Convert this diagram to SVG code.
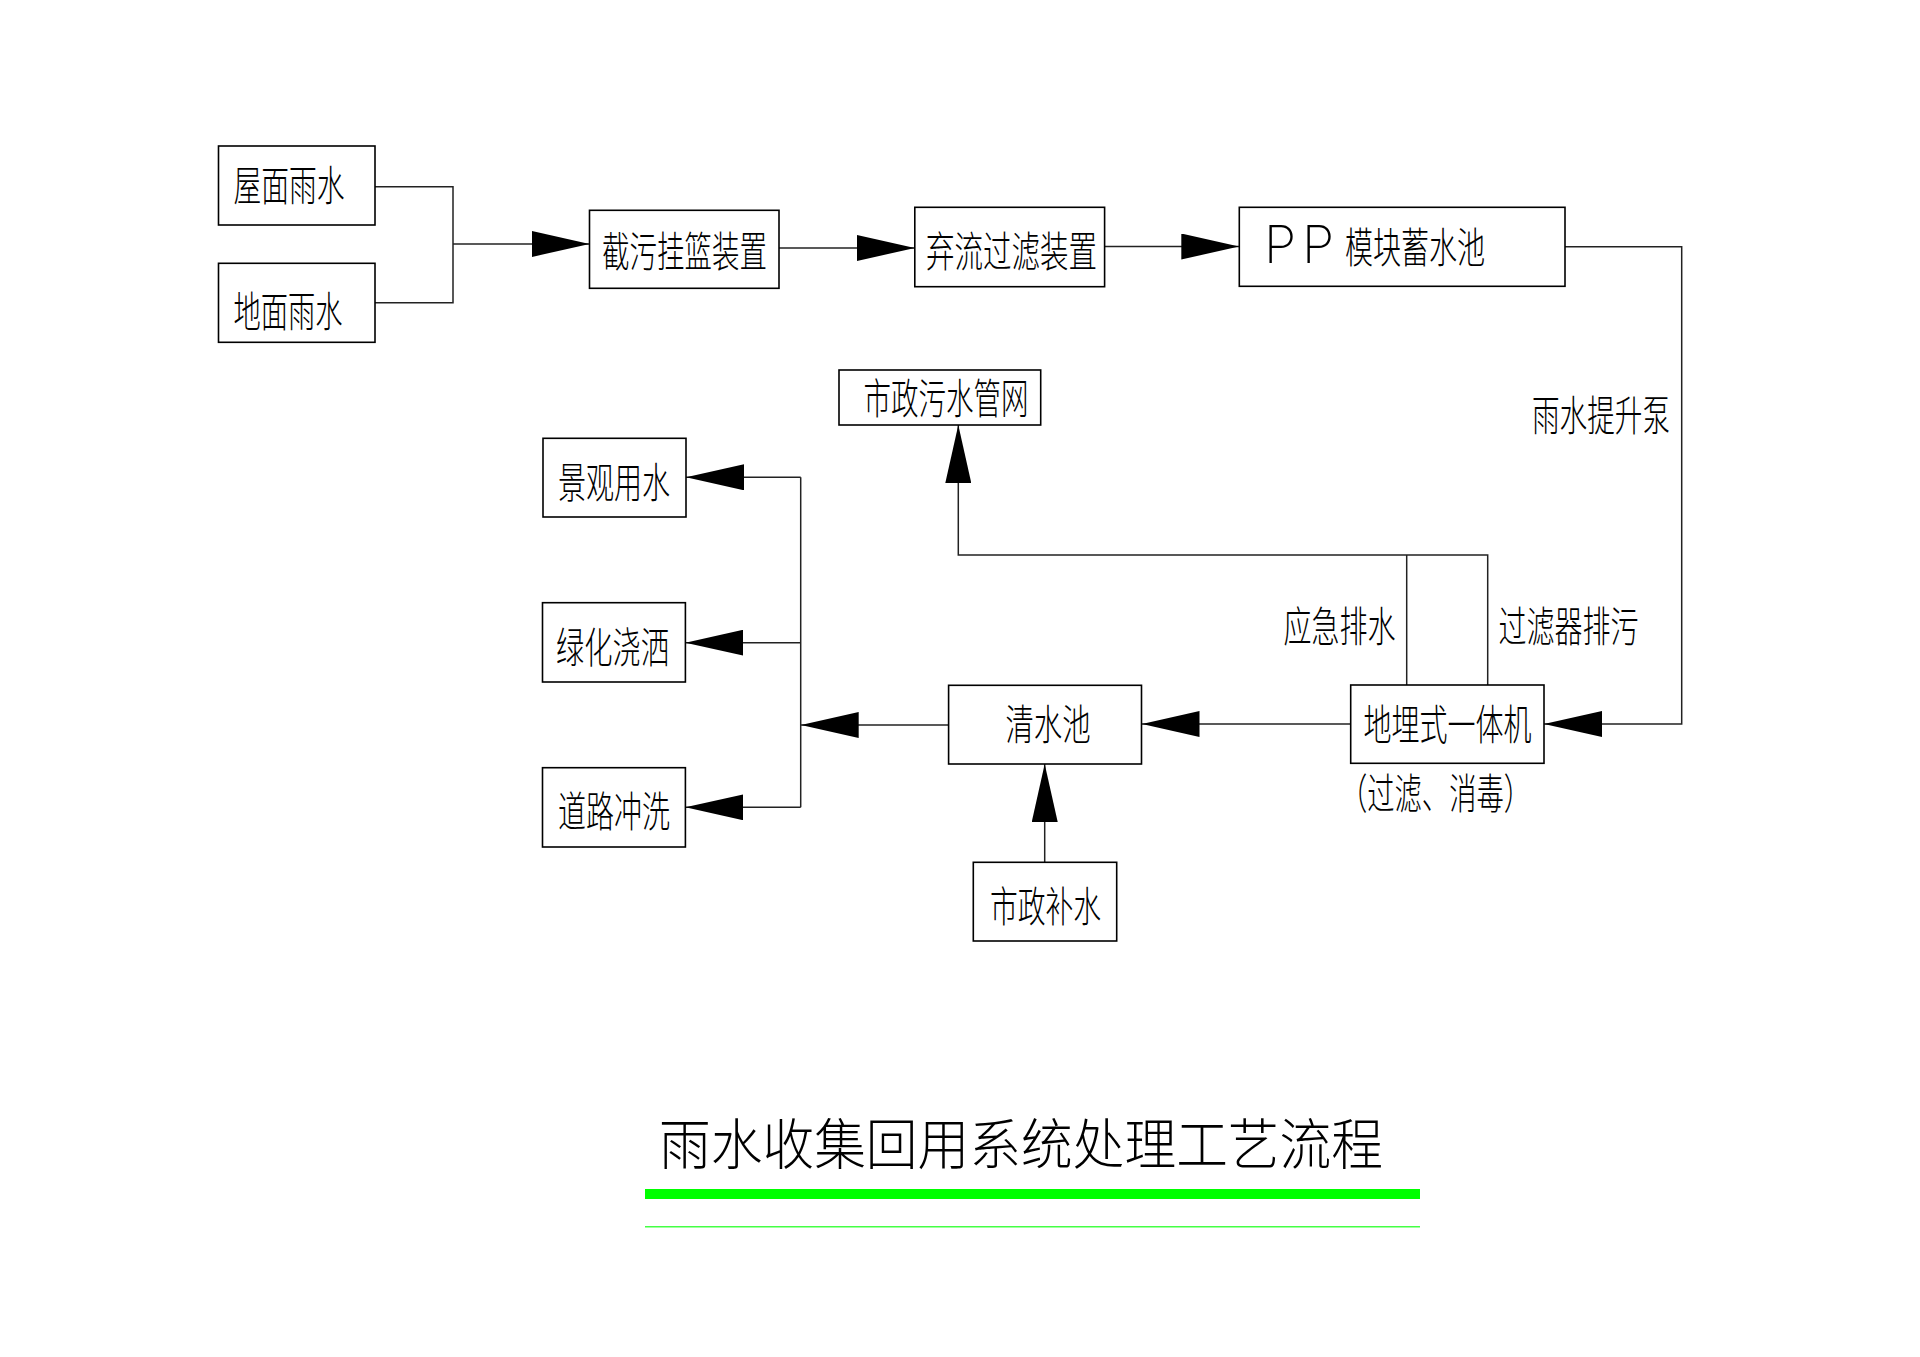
<svg xmlns="http://www.w3.org/2000/svg" width="1920" height="1357" viewBox="0 0 1920 1357">
<style>
.box{fill:#fff;stroke:#000;stroke-width:1.6}
.ln{fill:none;stroke:#222;stroke-width:1.5}
.lbl{font-family:"Noto Sans CJK SC","Noto Sans CJK TC",sans-serif;font-size:42px;font-weight:300;fill:#000;dominant-baseline:central}
.pp{font-family:Inter,"Liberation Sans",sans-serif;font-size:52px;font-weight:200;fill:#000}
.title{font-family:"Noto Sans CJK SC",sans-serif;font-size:55px;font-weight:300;fill:#000;dominant-baseline:central}
</style>
<defs>
<marker id="arr" viewBox="0 0 58 26" refX="58" refY="13" markerWidth="58" markerHeight="26" markerUnits="userSpaceOnUse" orient="auto">
<path d="M0,0 L58,13 L0,26 Z" fill="#000"/>
</marker>
</defs>
<rect width="1920" height="1357" fill="#fff"/>

<g id="connectors">
<polyline class="ln" points="375,186.7 453,186.7 453,302.7 375,302.7"/>
<line class="ln" x1="453" y1="244" x2="589.5" y2="244" marker-end="url(#arr)"/>
<line class="ln" x1="779" y1="248" x2="914.8" y2="248" marker-end="url(#arr)"/>
<line class="ln" x1="1104.6" y1="246.5" x2="1239.3" y2="246.5" marker-end="url(#arr)"/>
<polyline class="ln" points="1565,246.7 1681.7,246.7 1681.7,724 1544,724" marker-end="url(#arr)"/>
<line class="ln" x1="1350.7" y1="724" x2="1141.5" y2="724" marker-end="url(#arr)"/>
<line class="ln" x1="948.6" y1="725" x2="800.7" y2="725" marker-end="url(#arr)"/>
<line class="ln" x1="800.7" y1="477.3" x2="800.7" y2="807.3"/>
<line class="ln" x1="800.7" y1="477.3" x2="686" y2="477.3" marker-end="url(#arr)"/>
<line class="ln" x1="800.7" y1="642.7" x2="685.4" y2="642.7" marker-end="url(#arr)"/>
<line class="ln" x1="800.7" y1="807.3" x2="685.4" y2="807.3" marker-end="url(#arr)"/>
<line class="ln" x1="1044.7" y1="862.3" x2="1044.7" y2="764" marker-end="url(#arr)"/>
<line class="ln" x1="1406.7" y1="685" x2="1406.7" y2="555"/>
<polyline class="ln" points="1487.7,685 1487.7,555 958.3,555 958.3,425" marker-end="url(#arr)"/>
<text class="lbl" x="1532" y="412" textLength="138" lengthAdjust="spacingAndGlyphs">雨水提升泵</text>
<text class="lbl" x="1283.5" y="623.5" textLength="112" lengthAdjust="spacingAndGlyphs">应急排水</text>
<text class="lbl" x="1498.5" y="623" textLength="140" lengthAdjust="spacingAndGlyphs">过滤器排污</text>
</g>

<g id="n1"><rect class="box" x="218.5" y="146" width="156.5" height="79"/>
<text class="lbl" x="233.5" y="182" textLength="111" lengthAdjust="spacingAndGlyphs">屋面雨水</text></g>
<g id="n2"><rect class="box" x="218.5" y="263.3" width="156.5" height="79"/>
<text class="lbl" x="233.5" y="308" textLength="109" lengthAdjust="spacingAndGlyphs">地面雨水</text></g>
<g id="n3"><rect class="box" x="589.5" y="210.3" width="189.5" height="78"/>
<text class="lbl" x="602" y="248.7" textLength="165" lengthAdjust="spacingAndGlyphs">截污挂篮装置</text></g>
<g id="n4"><rect class="box" x="914.8" y="207.3" width="189.8" height="79.4"/>
<text class="lbl" x="926" y="248" textLength="171" lengthAdjust="spacingAndGlyphs">弃流过滤装置</text></g>
<g id="n5"><rect class="box" x="1239.3" y="207.3" width="325.7" height="79"/>
<text class="pp" x="1264" y="262.5" textLength="70" lengthAdjust="spacing">PP</text>
<text class="lbl" x="1345" y="244.5" textLength="140" lengthAdjust="spacingAndGlyphs">模块蓄水池</text></g>
<g id="n6"><rect class="box" x="839" y="370" width="201.7" height="55"/>
<text class="lbl" x="863.5" y="395" textLength="165" lengthAdjust="spacingAndGlyphs">市政污水管网</text></g>
<g id="n7"><rect class="box" x="543" y="438.3" width="143" height="78.7"/>
<text class="lbl" x="558" y="479.5" textLength="112" lengthAdjust="spacingAndGlyphs">景观用水</text></g>
<g id="n8"><rect class="box" x="542.5" y="602.7" width="142.9" height="79.3"/>
<text class="lbl" x="556" y="644.5" textLength="113" lengthAdjust="spacingAndGlyphs">绿化浇洒</text></g>
<g id="n9"><rect class="box" x="542.5" y="767.7" width="142.9" height="79.3"/>
<text class="lbl" x="558" y="808.5" textLength="112" lengthAdjust="spacingAndGlyphs">道路冲洗</text></g>
<g id="n10"><rect class="box" x="948.6" y="685.3" width="192.9" height="78.7"/>
<text class="lbl" x="1005.5" y="721" textLength="85" lengthAdjust="spacingAndGlyphs">清水池</text></g>
<g id="n11"><rect class="box" x="1350.7" y="685" width="193.3" height="78.3"/>
<text class="lbl" x="1363.5" y="721" textLength="168" lengthAdjust="spacingAndGlyphs">地埋式一体机</text>
<text class="lbl" x="1340" y="790" textLength="191" lengthAdjust="spacingAndGlyphs">（过滤、消毒）</text></g>
<g id="n12"><rect class="box" x="973.3" y="862.3" width="143.4" height="78.7"/>
<text class="lbl" x="990" y="903" textLength="111" lengthAdjust="spacingAndGlyphs">市政补水</text></g>

<g id="title">
<text class="title" x="659" y="1140" textLength="724" lengthAdjust="spacingAndGlyphs">雨水收集回用系统处理工艺流程</text>
<rect x="645" y="1189" width="775" height="10" fill="#00ff00"/>
<line x1="645" y1="1226.7" x2="1420" y2="1226.7" stroke="#44ff44" stroke-width="1.6"/>
</g>
</svg>
